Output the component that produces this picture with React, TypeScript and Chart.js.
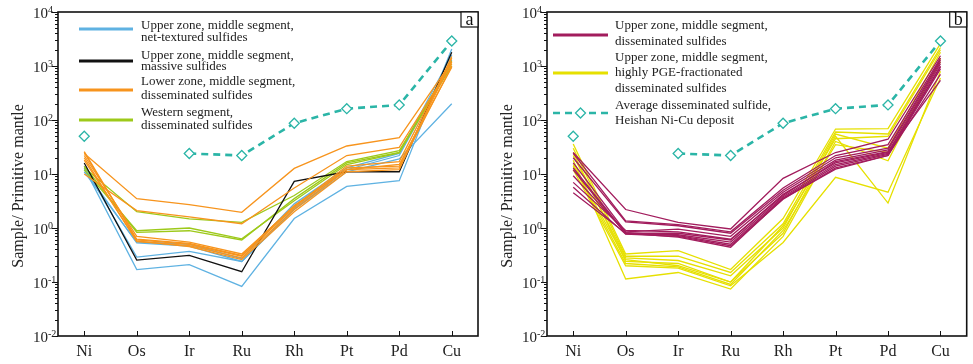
import React, { useEffect, useRef } from 'react';
import { Chart, registerables } from 'chart.js';

Chart.register(...registerables);

// ---------- data ----------
const elements = ['Ni', 'Os', 'Ir', 'Ru', 'Rh', 'Pt', 'Pd', 'Cu'];
const yTickExponents = [-2, -1, 0, 1, 2, 3, 4];

const heishanAverage = [50, null, 24, 22, 87, 162, 190, 2900];

// panel a
const netTexturedSulfides = [
  [13, 0.17, 0.21, 0.083, 1.5, 5.9, 7.5, 2070],
  [14, 0.29, 0.37, 0.24, 2.2, 11, 19, 200],
  [12, 0.53, 0.46, 0.24, 2.3, 12, 22, 1300],
  [11, 0.55, 0.5, 0.27, 2.8, 13, 24, 1600],
];
const massiveSulfides = [[16, 0.255, 0.31, 0.155, 7.3, 11, 11, 1800]];
const lowerZoneDisseminated = [
  [24, 3.5, 2.7, 1.95, 12.7, 33, 47, 1200],
  [10, 2.1, 1.6, 1.2, 5.5, 22, 31, 1100],
  [22, 0.7, 0.55, 0.33, 2.5, 14, 17, 1400],
  [25, 0.6, 0.5, 0.3, 2.4, 13, 14, 1200],
  [20, 0.56, 0.47, 0.28, 2.2, 12, 13, 1000],
  [18, 0.58, 0.45, 0.26, 2.0, 11, 12, 1500],
  [26, 0.62, 0.52, 0.31, 2.6, 12, 15, 950],
];
const westernDisseminated = [
  [13, 2.0, 1.47, 1.27, 4.0, 17, 27, 1000],
  [12, 0.89, 1.0, 0.63, 3.2, 15, 24.5, 1100],
  [14, 0.83, 0.89, 0.6, 3.5, 16, 25, 1250],
];

// panel b
const upperZoneDisseminated = [
  [25, 2.2, 1.27, 0.96, 8.3, 25, 44, 1550],
  [24, 1.36, 1.15, 0.85, 5.5, 22, 35, 1400],
  [20, 1.3, 1.1, 0.8, 5.0, 20, 30, 1300],
  [16, 0.85, 0.95, 0.7, 4.6, 18, 28, 1200],
  [13, 0.8, 0.8, 0.6, 4.2, 16, 25, 1100],
  [12, 0.78, 0.75, 0.55, 3.8, 15, 24, 1000],
  [9.3, 0.82, 0.72, 0.5, 3.6, 14, 23, 950],
  [5.7, 0.77, 0.7, 0.47, 3.4, 13, 22, 880],
  [4.5, 0.8, 0.68, 0.44, 3.5, 12.3, 22, 700],
  [7, 0.9, 0.85, 0.62, 4.0, 17, 26, 540],
];
const pgeFractionated = [
  [36, 0.33, 0.38, 0.17, 1.5, 68, 69, 2600],
  [30, 0.3, 0.3, 0.15, 1.2, 60, 55, 2200],
  [22, 0.28, 0.25, 0.13, 1.0, 55, 30, 1800],
  [15, 0.26, 0.2, 0.1, 0.8, 50, 2.9, 800],
  [12, 0.2, 0.18, 0.085, 0.54, 8.7, 4.6, 600],
  [18, 0.114, 0.15, 0.074, 0.7, 40, 17.6, 1400],
  [25, 0.24, 0.22, 0.1, 1.1, 45, 50, 2000],
  [14, 0.22, 0.19, 0.09, 0.9, 35, 25, 1200],
];

// ---------- styles ----------
const C_BLUE = '#5fb2e2';
const C_BLACK = '#111111';
const C_ORANGE = '#f7941d';
const C_GREEN = '#9dc91a';
const C_MAGENTA = '#a21c5d';
const C_YELLOW = '#e6e000';
const C_TEAL = '#2bb5a7';
const SERIF = '"Liberation Serif", "DejaVu Serif", serif';

type LegendItem = { color: string; lineY: number; dashed?: boolean; lines: string[]; textY: number[] };
type PanelCfg = {
  left: number;
  width: number;
  yAxisWidth: number;
  padRight: number;
  groups: { color: string; rows: number[][] }[];
  legend: LegendItem[];
  legendX0: number;
  legendX1: number;
  legendTextX: number;
  letter: string;
};

function refDataset() {
  return {
    data: heishanAverage,
    borderColor: C_TEAL,
    borderWidth: 2.6,
    borderDash: [7, 5],
    pointStyle: 'rectRot',
    pointRadius: 5,
    pointBorderColor: C_TEAL,
    pointBackgroundColor: '#ffffff',
    pointBorderWidth: 1.3,
    spanGaps: false,
    fill: false,
    tension: 0,
  };
}

function decorPlugin(cfg: PanelCfg) {
  return {
    id: 'decor',
    afterDraw(chart: any) {
      const ctx = chart.ctx as CanvasRenderingContext2D;
      const { left, right, top, bottom } = chart.chartArea;
      const ys = chart.scales.y;
      const xs = chart.scales.x;
      const line = (x1: number, y1: number, x2: number, y2: number) => {
        ctx.beginPath();
        ctx.moveTo(x1, y1);
        ctx.lineTo(x2, y2);
        ctx.stroke();
      };
      ctx.save();
      ctx.strokeStyle = '#111';
      ctx.lineWidth = 1;
      // y ticks (outward)
      for (const e of yTickExponents) {
        const py = Math.round(ys.getPixelForValue(Math.pow(10, e))) + 0.5;
        line(left - 6, py, left, py);
        if (e < 4) {
          for (let k = 2; k <= 9; k++) {
            const pm = Math.round(ys.getPixelForValue(k * Math.pow(10, e))) + 0.5;
            line(left - 3, pm, left, pm);
          }
        }
      }
      // x ticks (inward)
      elements.forEach((_, i) => {
        const px = Math.round(xs.getPixelForValue(i)) + 0.5;
        line(px, bottom, px, bottom - 5);
      });
      // frame
      ctx.lineWidth = 1.6;
      ctx.strokeRect(left, top, right - left, bottom - top);

      // y tick labels 10^n
      ctx.fillStyle = '#222';
      ctx.textAlign = 'left';
      ctx.textBaseline = 'alphabetic';
      for (const e of yTickExponents) {
        const py = ys.getPixelForValue(Math.pow(10, e));
        const lx = left - 25;
        ctx.font = `15px ${SERIF}`;
        ctx.fillText('10', lx, py + 6);
        const w = ctx.measureText('10').width;
        ctx.font = `10px ${SERIF}`;
        ctx.fillText(String(e), lx + w, py + 1);
      }
      // y title
      ctx.save();
      ctx.translate(left - 39, (top + bottom) / 2 + 12);
      ctx.rotate(-Math.PI / 2);
      ctx.textAlign = 'center';
      ctx.textBaseline = 'middle';
      ctx.font = `16px ${SERIF}`;
      ctx.fillText('Sample/ Primitive mantle', 0, 0);
      ctx.restore();

      // legend
      ctx.font = `13px ${SERIF}`;
      ctx.textAlign = 'left';
      ctx.textBaseline = 'middle';
      for (const item of cfg.legend) {
        ctx.strokeStyle = item.color;
        ctx.lineWidth = item.dashed ? 2.6 : 3.2;
        ctx.setLineDash(item.dashed ? [7, 5] : []);
        line(cfg.legendX0, item.lineY, cfg.legendX1, item.lineY);
        ctx.setLineDash([]);
        if (item.dashed) {
          const cx = (cfg.legendX0 + cfg.legendX1) / 2;
          ctx.beginPath();
          ctx.moveTo(cx, item.lineY - 5);
          ctx.lineTo(cx + 5, item.lineY);
          ctx.lineTo(cx, item.lineY + 5);
          ctx.lineTo(cx - 5, item.lineY);
          ctx.closePath();
          ctx.fillStyle = '#fff';
          ctx.fill();
          ctx.lineWidth = 1.3;
          ctx.stroke();
        }
        ctx.fillStyle = '#222';
        item.lines.forEach((t, i) => ctx.fillText(t, cfg.legendTextX, item.textY[i]));
      }

      // panel letter box
      ctx.strokeStyle = '#111';
      ctx.lineWidth = 1.2;
      ctx.fillStyle = '#fff';
      ctx.fillRect(right - 17, top, 17, 15);
      ctx.strokeRect(right - 17, top, 17, 15);
      ctx.fillStyle = '#111';
      ctx.font = `18px ${SERIF}`;
      ctx.textAlign = 'center';
      ctx.textBaseline = 'alphabetic';
      ctx.fillText(cfg.letter, right - 8.5, top + 13);
      ctx.restore();
    },
  };
}

function Panel({ cfg }: { cfg: PanelCfg }) {
  const ref = useRef<HTMLCanvasElement>(null);
  useEffect(() => {
    if (!ref.current) return;
    const datasets: any[] = [refDataset()];
    for (const g of cfg.groups) {
      for (const row of g.rows) {
        datasets.push({
          data: row,
          borderColor: g.color,
          borderWidth: 1.3,
          pointRadius: 0,
          fill: false,
          tension: 0,
        });
      }
    }
    const chart = new Chart(ref.current, {
      type: 'line',
      data: { labels: elements, datasets },
      options: {
        responsive: false,
        maintainAspectRatio: false,
        animation: false,
        events: [],
        layout: { padding: { left: 0, right: cfg.padRight, top: 12, bottom: 0 } },
        plugins: { legend: { display: false }, tooltip: { enabled: false }, title: { display: false } },
        scales: {
          x: {
            type: 'category',
            offset: true,
            grid: { display: false, drawTicks: false },
            border: { display: false },
            ticks: {
              color: '#222',
              font: { family: SERIF, size: 16 },
              padding: 6,
              maxRotation: 0,
              autoSkip: false,
            },
            afterFit: (s: any) => {
              s.height = 28;
            },
          },
          y: {
            type: 'logarithmic',
            min: 0.01,
            max: 10000,
            grid: { display: false },
            border: { display: false },
            ticks: { display: false },
            afterFit: (s: any) => {
              s.width = cfg.yAxisWidth;
            },
          },
        },
      } as any,
      plugins: [decorPlugin(cfg)],
    });
    return () => chart.destroy();
  }, []);
  return (
    <canvas
      ref={ref}
      width={cfg.width}
      height={364}
      style={{ position: 'absolute', left: cfg.left, top: 0, width: cfg.width, height: 364, display: 'block' }}
    />
  );
}

const panelA: PanelCfg = {
  left: 0,
  width: 490,
  yAxisWidth: 58,
  padRight: 12,
  groups: [
    { color: C_ORANGE, rows: lowerZoneDisseminated },
    { color: C_BLACK, rows: massiveSulfides },
    { color: C_GREEN, rows: westernDisseminated },
    { color: C_BLUE, rows: netTexturedSulfides },
  ],
  legendX0: 79,
  legendX1: 133,
  legendTextX: 141,
  legend: [
    { color: C_BLUE, lineY: 29, lines: ['Upper zone, middle segment,', 'net-textured sulfides'], textY: [26, 38] },
    { color: C_BLACK, lineY: 61, lines: ['Upper zone, middle segment,', 'massive sulfides'], textY: [56, 67] },
    { color: C_ORANGE, lineY: 90, lines: ['Lower zone, middle segment,', 'disseminated sulfides'], textY: [82, 96] },
    { color: C_GREEN, lineY: 120, lines: ['Western segment,', 'disseminated sulfides'], textY: [113, 126] },
  ],
  letter: 'a',
};

const panelB: PanelCfg = {
  left: 490,
  width: 483,
  yAxisWidth: 57,
  padRight: 4,
  groups: [
    { color: C_MAGENTA, rows: upperZoneDisseminated },
    { color: C_YELLOW, rows: pgeFractionated },
  ],
  legendX0: 63,
  legendX1: 118,
  legendTextX: 125,
  legend: [
    { color: C_MAGENTA, lineY: 35, lines: ['Upper zone, middle segment,', 'disseminated sulfides'], textY: [26, 42] },
    {
      color: C_YELLOW,
      lineY: 73,
      lines: ['Upper zone, middle segment,', 'highly PGE-fractionated', 'disseminated sulfides'],
      textY: [58, 73, 89],
    },
    {
      color: C_TEAL,
      lineY: 113,
      dashed: true,
      lines: ['Average disseminated sulfide,', 'Heishan Ni-Cu deposit'],
      textY: [106, 121],
    },
  ],
  letter: 'b',
};

export default function App() {
  return (
    <div style={{ position: 'absolute', left: 0, top: 0, width: 973, height: 364, background: '#fff' }}>
      <Panel cfg={panelA} />
      <Panel cfg={panelB} />
    </div>
  );
}
